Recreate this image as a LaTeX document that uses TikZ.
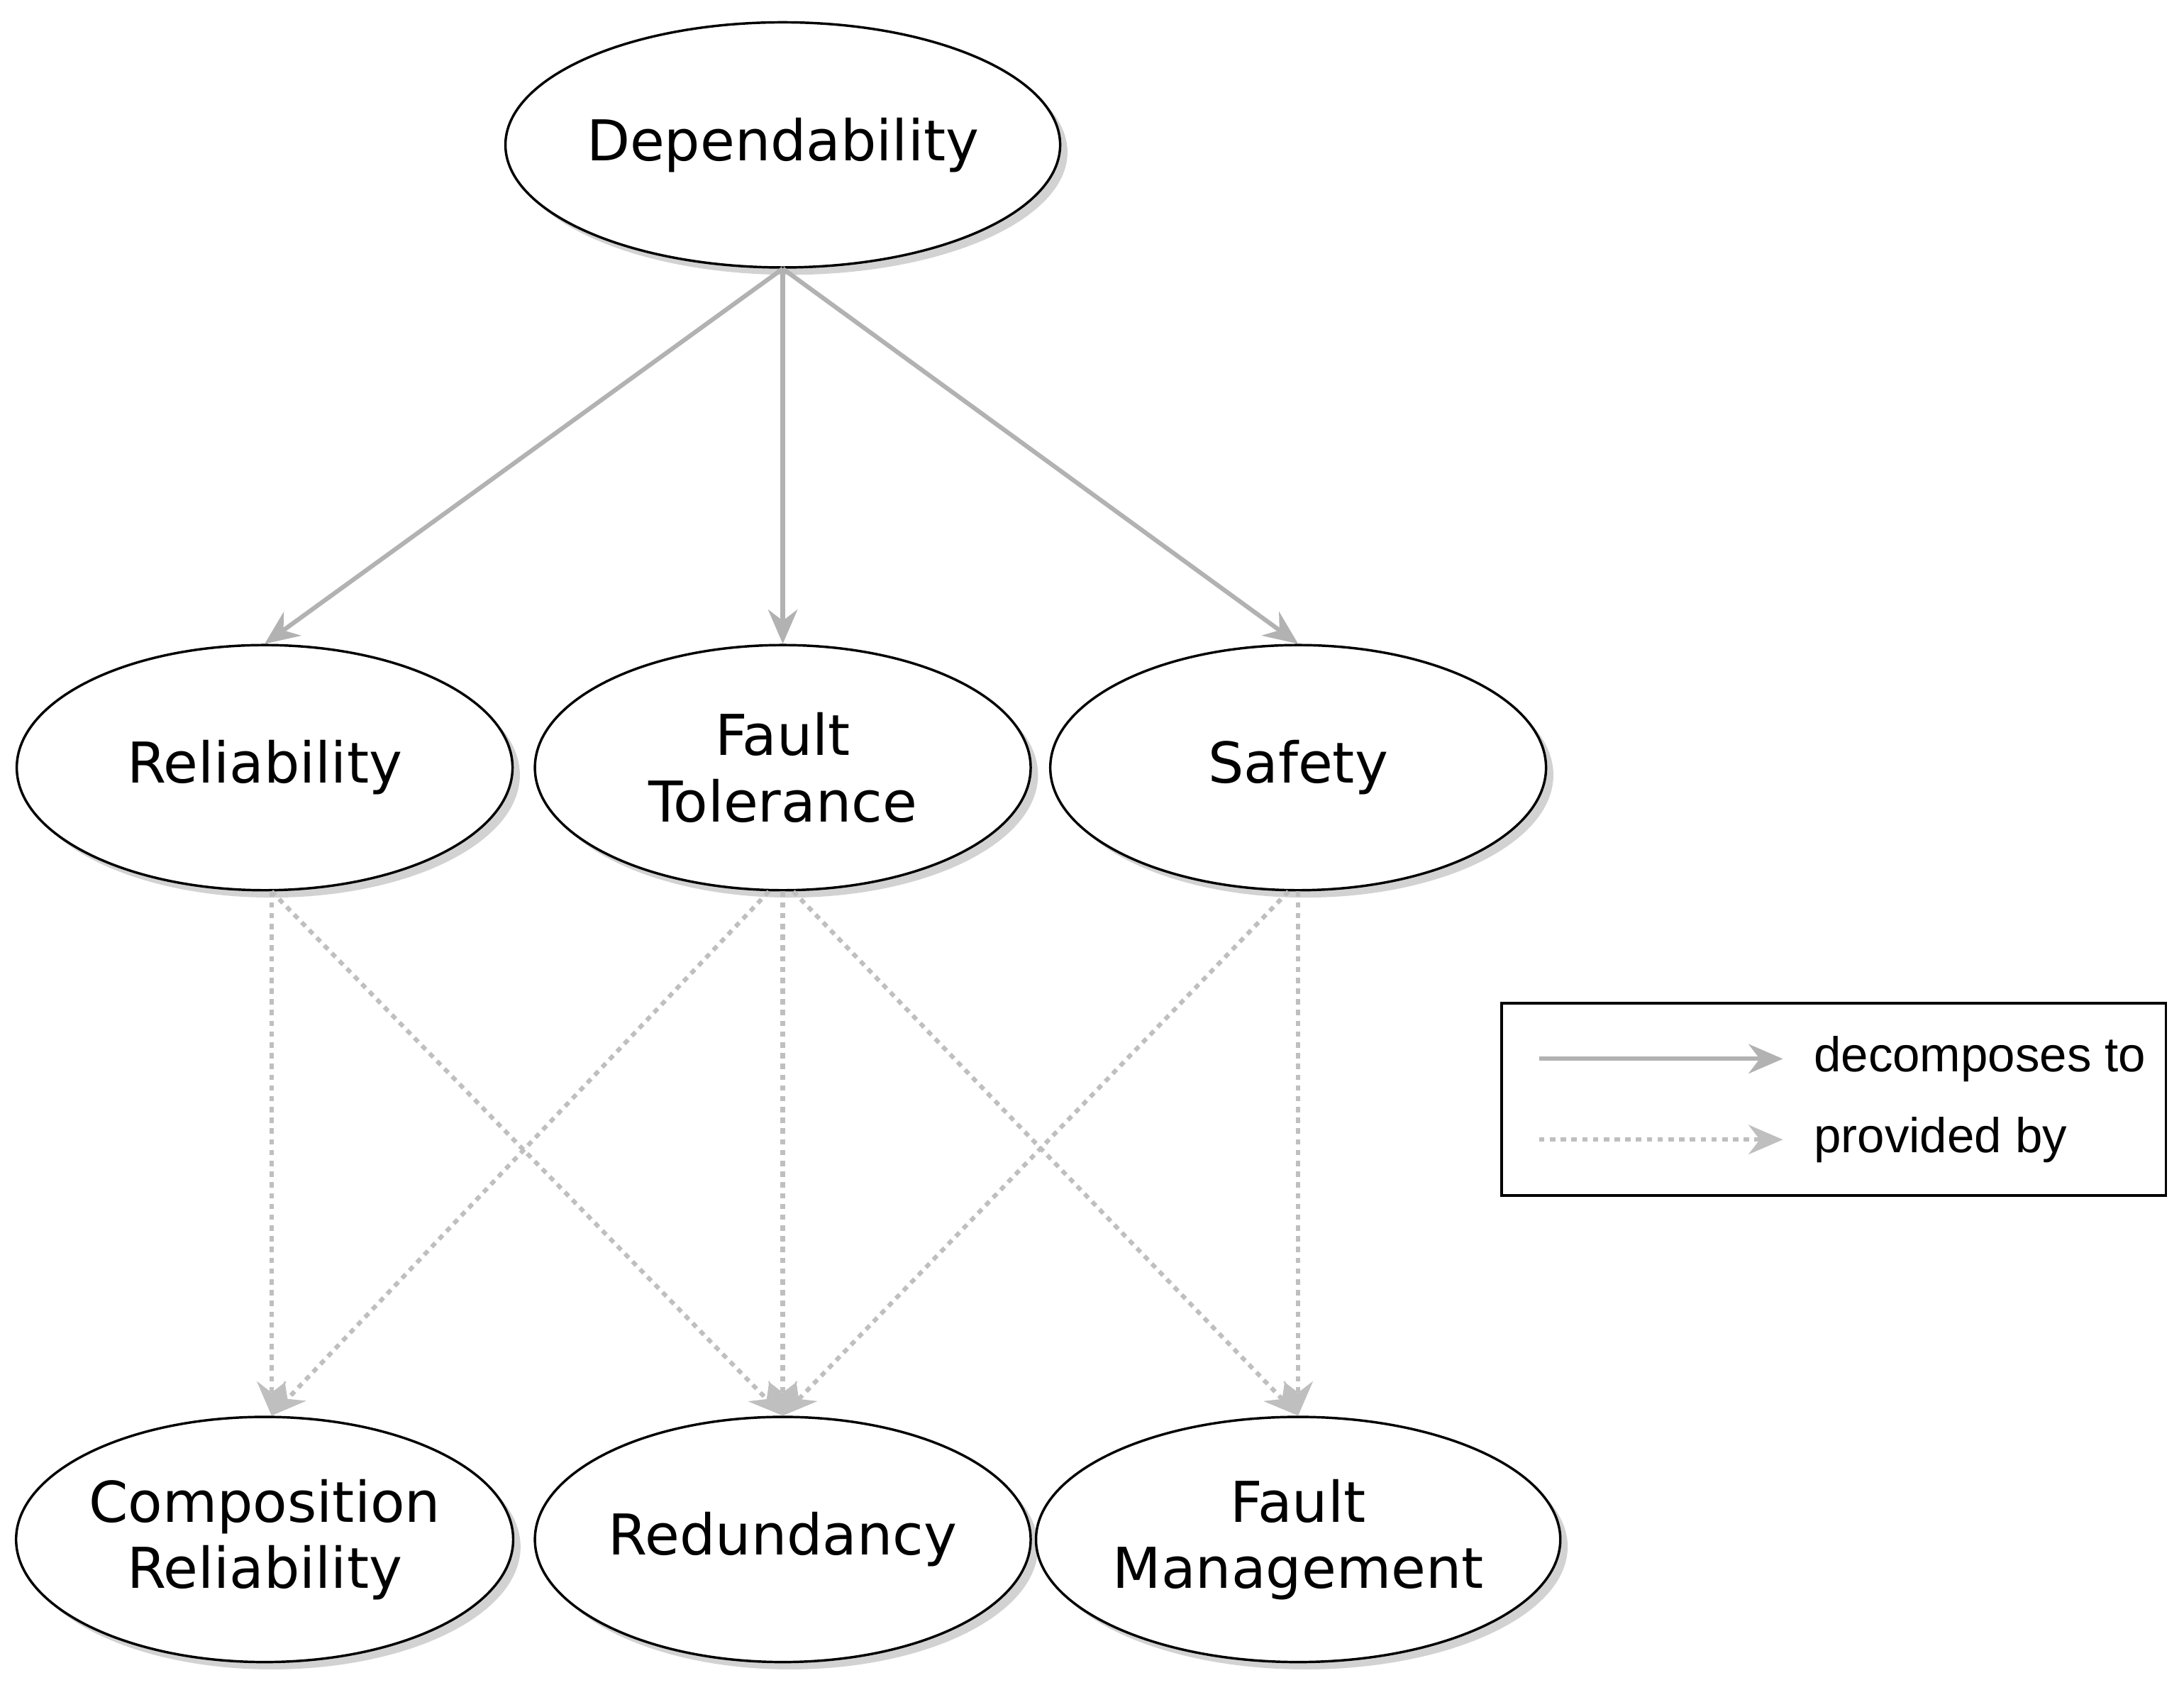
\documentclass[tikz,border=0pt]{standalone}
\usepackage{fontspec}
\setmainfont{DejaVu Sans}
\newfontfamily\legfont{Liberation Sans}
\usetikzlibrary{shapes.geometric,arrows.meta,shadows}
\begin{document}
\begin{tikzpicture}[x=0.02cm,y=-0.02cm,
  el/.style={ellipse,draw,line width=1pt,fill=white,minimum width=7.12cm,minimum height=3.52cm,inner sep=0pt,align=center,font=\fontsize{23}{27}\selectfont,
    drop shadow={shadow xshift=3pt,shadow yshift=-3pt,fill=black!35}},
  dec/.style={draw=black!30,line width=1.8pt,-{Stealth[length=14pt,width=12pt]}},
  prov/.style={draw=black!25,line width=1.8pt,dash pattern=on 2.2pt off 2.2pt,-{Stealth[length=14pt,width=12pt]}}]
\useasboundingbox (0,0) rectangle (1568,1213);
\node[el] (dep) at (562,104) {Dependability};
\node[el] (rel) at (190,551) {Reliability};
\node[el] (ft) at (562,551) {Fault\\Tolerance};
\node[el] (saf) at (932,551) {Safety};
\node[el] (cr) at (190,1105) {Composition\\Reliability};
\node[el] (red) at (562,1105) {Redundancy};
\node[el] (fm) at (932,1105) {Fault\\Management};
\draw[dec] (dep.south) -- (rel.north);
\draw[dec] (dep.south) -- (ft.north);
\draw[dec] (dep.south) -- (saf.north);
\draw[prov] ([xshift=0.1cm]rel.south) -- ([xshift=0.1cm]cr.north);
\draw[prov] ([xshift=0.1cm]rel.south) -- (red.north);
\draw[prov] ([xshift=-0.2cm]ft.south) -- ([xshift=0.1cm]cr.north);
\draw[prov] (ft.south) -- (red.north);
\draw[prov] ([xshift=0.15cm]ft.south) -- (fm.north);
\draw[prov] ([xshift=-0.14cm]saf.south) -- (red.north);
\draw[prov] (saf.south) -- (fm.north);
\node[draw,line width=1pt,minimum width=9.54cm,minimum height=2.76cm,inner sep=0pt] (leg) at (1316.5,789) {};
\coordinate (a1) at (1105,760); \coordinate (a2) at (1280,760);
\coordinate (b1) at (1105,818); \coordinate (b2) at (1280,818);
\draw[dec] (a1) -- (a2);
\draw[prov] (b1) -- (b2);
\node[anchor=west,inner sep=0pt,font=\legfont\fontsize{20}{24}\selectfont] (t1) at (1302,760) {decomposes to};
\node[anchor=west,inner sep=0pt,font=\legfont\fontsize{20}{24}\selectfont] (t2) at (1302,818) {provided by};
\end{tikzpicture}
\end{document}
